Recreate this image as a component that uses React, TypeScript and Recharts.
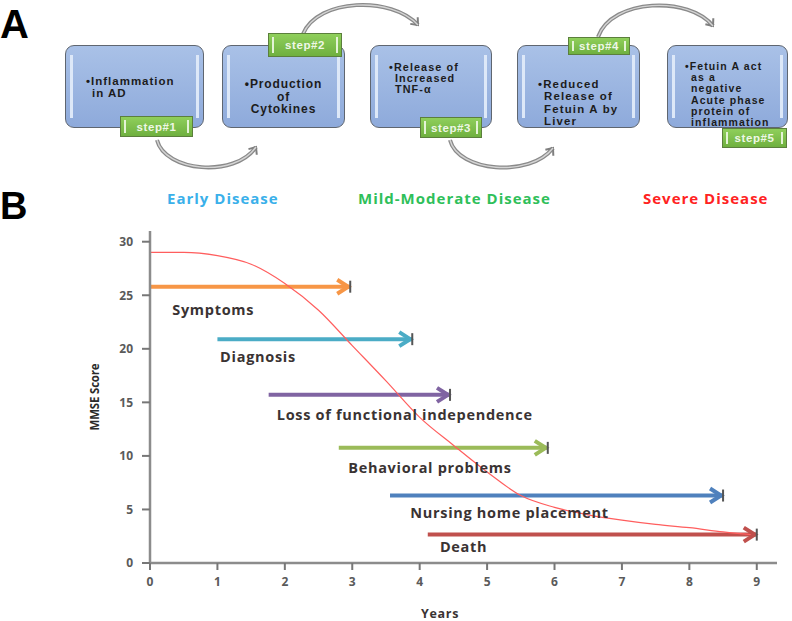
import React from "react";
import { ComposedChart, Line, Scatter, XAxis, YAxis } from "recharts";

// MMSE decline curve
const curveYears = [0, 0.5, 1, 1.5, 2, 2.5, 3, 3.5, 4, 4.5, 5, 5.5, 6, 6.5, 7, 7.5, 8, 8.5, 9];
const curveScore = [29, 29, 28.7, 27.9, 26.1, 23.6, 20.3, 17.0, 13.6, 11.0, 8.5, 6.3, 5.2, 4.5, 4.0, 3.6, 3.3, 2.9, 2.6];

// clinical milestones (arrows)
const eventNames = [
  "Symptoms",
  "Diagnosis",
  "Loss of functional independence",
  "Behavioral problems",
  "Nursing home placement",
  "Death",
];
const eventStart = [0, 1.0, 1.76, 2.8, 3.56, 4.12];
const eventEnd = [2.97, 3.89, 4.45, 5.9, 8.5, 9.0];
const eventScore = [25.8, 20.9, 15.7, 10.75, 6.3, 2.65];
const labelYear = [0.33, 1.04, 1.88, 2.94, 3.86, 4.3];
const labelScore = [23.7, 19.3, 13.9, 8.9, 4.7, 1.5];
const eventColors = ["#f79646", "#4bacc6", "#8064a2", "#9bbb59", "#4f81bd", "#c0504d"];

const xTicks = [0, 1, 2, 3, 4, 5, 6, 7, 8, 9];
const yTicks = [0, 5, 10, 15, 20, 25, 30];

const phaseNames = ["Early Disease", "Mild-Moderate Disease", "Severe Disease"];
const phaseColors = ["#3ab0ea", "#2fbf5a", "#ff2222"];

// panel A flow
const stepTexts = [
  ["Inflammation", "in AD"],
  ["Production", "of", "Cytokines"],
  ["Release of", "Increased", "TNF-\u03b1"],
  ["Reduced", "Release of", "Fetuin A by", "Liver"],
  ["Fetuin A act", "as a", "negative", "Acute phase", "protein of", "inflammation"],
];
const stepTags = ["step#1", "step#2", "step#3", "step#4", "step#5"];

const boxLayout = [
  { left: 65, width: 139, textLeft: 20, textTop: 29, lh: 12, fs: 11.5, ls: 1, center: false },
  { left: 222, width: 123, textLeft: 0, textTop: 32, lh: 12.5, fs: 12, ls: 0.9, center: true },
  { left: 370, width: 122, textLeft: 18, textTop: 16, lh: 11, fs: 10.8, ls: 1.1, center: false },
  { left: 517, width: 123, textLeft: 20, textTop: 32, lh: 12.4, fs: 11.4, ls: 1.2, center: false },
  { left: 667, width: 121, textLeft: 17, textTop: 15, lh: 11.2, fs: 10.5, ls: 1.1, center: false },
];
const tagLayout = [
  { left: 120, top: 116, width: 73, height: 21 },
  { left: 268, top: 33, width: 74, height: 24 },
  { left: 420, top: 117, width: 62, height: 21 },
  { left: 568, top: 37, width: 62, height: 18 },
  { left: 722, top: 128, width: 65, height: 20 },
];
const connectorPaths = [
  "M157,140 C165,172 235,178 256,147",
  "M303,34 C318,-2 392,-4 418,25",
  "M450,140 C458,172 530,178 553,148",
  "M598,37 C612,-2 690,-4 713,26",
];

const curveData = curveYears.map((x, i) => ({ x, y: curveScore[i] }));
const arrowData = eventNames.map((_, i) => [
  { x: eventStart[i], y: eventScore[i] },
  { x: eventEnd[i], y: eventScore[i] },
]);
const labelData = eventNames.map((name, i) => ({ x: labelYear[i], y: labelScore[i], name }));

const labelFont = "'Open Sans', sans-serif";
const boxFont = "'Liberation Sans', Arial, sans-serif";

const arrowHead = (color: string) => (props: any) => {
  const { cx, cy, index } = props;
  if (index !== 1) return <g key={`d${index}`} />;
  return (
    <g key={`h${index}`}>
      <path
        d={`M${cx - 13},${cy - 7} L${cx - 2},${cy} L${cx - 13},${cy + 7}`}
        fill="none"
        stroke={color}
        strokeWidth={4}
        strokeLinejoin="miter"
      />
      <rect x={cx - 1} y={cy - 6} width={2} height={12} fill="#555" />
    </g>
  );
};

const LabelShape = (props: any) => {
  const { cx, cy, payload } = props;
  return (
    <text
      x={cx}
      y={cy}
      dominantBaseline="central"
      fontFamily={labelFont}
      fontWeight={700}
      fontSize={14.5}
      letterSpacing={0.7}
      fill="#3a3333"
    >
      {payload.name}
    </text>
  );
};

const FlowPanel = () => (
  <div style={{ position: "absolute", left: 0, top: 0, width: 792, height: 180 }}>
    {boxLayout.map((b, i) => (
      <div
        key={i}
        style={{
          position: "absolute",
          left: b.left,
          top: 45,
          width: b.width,
          height: 83,
          boxSizing: "border-box",
          border: "1.5px solid #5f6670",
          borderRadius: 9,
          background: "linear-gradient(to bottom, #a9c1e7, #8eaadb)",
        }}
      >
        <div style={{ position: "absolute", left: 4, top: 9, bottom: 9, width: 3, background: "#dde8f8" }} />
        <div style={{ position: "absolute", right: 4, top: 9, bottom: 9, width: 3, background: "#dde8f8" }} />
        <div
          style={{
            position: "absolute",
            left: b.center ? 0 : b.textLeft,
            right: 0,
            top: b.textTop,
            fontFamily: boxFont,
            fontWeight: 700,
            fontSize: b.fs,
            lineHeight: `${b.lh}px`,
            letterSpacing: b.ls,
            color: "#1c1c1c",
            textAlign: b.center ? "center" : "left",
          }}
        >
          {stepTexts[i].map((t, j) => (
            <div key={j} style={{ paddingLeft: !b.center && j > 0 ? 6 : 0 }}>
              {j === 0 ? "\u2022" + t : t}
            </div>
          ))}
        </div>
      </div>
    ))}
    <svg width={792} height={180} style={{ position: "absolute", left: 0, top: 0 }}>
      <defs>
        <marker id="chev" markerWidth="12" markerHeight="12" refX="7" refY="6" orient="auto" markerUnits="userSpaceOnUse">
          <path d="M1,1 L7,6 L1,11" fill="none" stroke="#7f7f7f" strokeWidth="2" />
        </marker>
      </defs>
      {connectorPaths.map((d, i) => (
        <g key={i}>
          <path d={d} fill="none" stroke="#8a8a8a" strokeWidth={4} markerEnd="url(#chev)" />
          <path d={d} fill="none" stroke="#d4d4d4" strokeWidth={1.4} />
        </g>
      ))}
    </svg>
    {tagLayout.map((t, i) => (
      <div
        key={i}
        style={{
          position: "absolute",
          left: t.left,
          top: t.top,
          width: t.width,
          height: t.height,
          boxSizing: "border-box",
          border: "1.5px solid #5b7f3c",
          background: "linear-gradient(to bottom, #8fcf5b, #6fb03f)",
          display: "flex",
          alignItems: "center",
          justifyContent: "center",
          fontFamily: boxFont,
          fontWeight: 700,
          fontSize: 11.5,
          letterSpacing: 0.6,
          color: "#eef7e6",
        }}
      >
        <div style={{ position: "absolute", left: 3, top: 3, bottom: 3, width: 2, background: "#e4f3d6" }} />
        <div style={{ position: "absolute", right: 3, top: 3, bottom: 3, width: 2, background: "#e4f3d6" }} />
        {stepTags[i]}
      </div>
    ))}
  </div>
);

export default function App() {
  return (
    <div
      style={{
        position: "absolute",
        left: 0,
        top: 0,
        width: 792,
        height: 621,
        background: "#ffffff",
        overflow: "hidden",
      }}
    >
      <div style={{ position: "absolute", left: 0, top: 0 }}>
        <ComposedChart width={792} height={621} margin={{ top: 231, right: 15, left: 90, bottom: 28 }}>
          <XAxis
            type="number"
            dataKey="x"
            domain={[0, 9.3]}
            ticks={xTicks}
            allowDataOverflow
            height={30}
            tickSize={7}
            tickMargin={7}
            axisLine={{ stroke: "#8c8c8c", strokeWidth: 2.5 }}
            tickLine={{ stroke: "#777", strokeWidth: 2 }}
            tick={{ fill: "#5a5a5a", fontSize: 12, fontWeight: 700, fontFamily: labelFont }}
          />
          <YAxis
            type="number"
            dataKey="y"
            domain={[0, 31]}
            ticks={yTicks}
            allowDataOverflow
            width={60}
            tickSize={8}
            tickMargin={9}
            axisLine={{ stroke: "#8c8c8c", strokeWidth: 2.5 }}
            tickLine={{ stroke: "#777", strokeWidth: 2 }}
            tick={{ fill: "#5a5a5a", fontSize: 12, fontWeight: 700, fontFamily: labelFont }}
          />
          {arrowData.map((d, i) => (
            <Line
              key={eventNames[i]}
              data={d}
              dataKey="y"
              type="linear"
              stroke={eventColors[i]}
              strokeWidth={4}
              dot={arrowHead(eventColors[i])}
              activeDot={false}
              isAnimationActive={false}
            />
          ))}
          <Line
            data={curveData}
            dataKey="y"
            type="monotone"
            stroke="#ff5e5e"
            strokeWidth={1.2}
            dot={false}
            activeDot={false}
            isAnimationActive={false}
          />
          <Scatter data={labelData} dataKey="y" shape={LabelShape} isAnimationActive={false} />
        </ComposedChart>
      </div>
      <FlowPanel />
      <svg width={792} height={621} style={{ position: "absolute", left: 0, top: 0, pointerEvents: "none" }}>
        <text x={0} y={38} fontFamily={boxFont} fontWeight={700} fontSize={40} fill="#000">A</text>
        <text x={0} y={219} fontFamily={boxFont} fontWeight={700} fontSize={38} fill="#000">B</text>
        {phaseNames.map((p, i) => (
          <text
            key={p}
            x={[167, 358, 643][i]}
            y={198}
            dominantBaseline="central"
            fontFamily={labelFont}
            fontWeight={700}
            fontSize={15}
            letterSpacing={1}
            fill={phaseColors[i]}
          >
            {p}
          </text>
        ))}
        <text
          transform="translate(94,397) rotate(-90)"
          textAnchor="middle"
          dominantBaseline="central"
          fontFamily={labelFont}
          fontWeight={700}
          fontSize={11.5}
          letterSpacing={-0.2}
          fill="#2a2a2a"
        >
          MMSE Score
        </text>
        <text
          x={440}
          y={613}
          textAnchor="middle"
          dominantBaseline="central"
          fontFamily={labelFont}
          fontWeight={700}
          fontSize={12.5}
          letterSpacing={0.7}
          fill="#3a3333"
        >
          Years
        </text>
      </svg>
    </div>
  );
}
